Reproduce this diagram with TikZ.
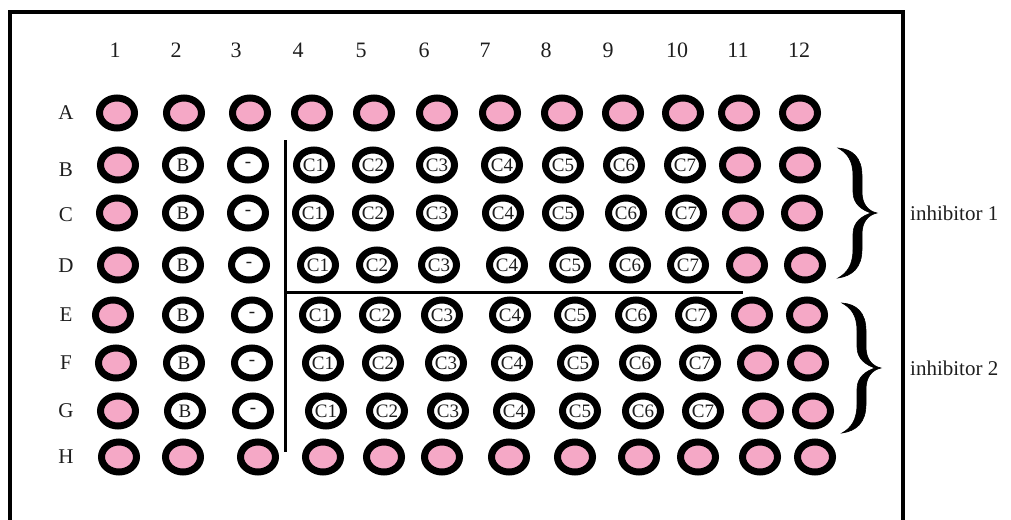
\documentclass[tikz,border=0pt]{standalone}
\usepackage{fontspec}
\setmainfont{Liberation Serif}
\usetikzlibrary{shapes.geometric}
\definecolor{wellpink}{RGB}{245,168,198}
\definecolor{inktext}{RGB}{30,30,30}
\begin{document}
\begin{tikzpicture}[x=1pt,y=-1pt,
  wellbase/.style={ellipse, draw=black, line width=7pt, minimum width=35pt, minimum height=30pt, inner sep=0pt, font=\fontsize{19}{19}\selectfont, text=inktext},
  pinkwell/.style={wellbase, fill=wellpink},
  labwell/.style={wellbase, fill=white},
  headlab/.style={font=\fontsize{22}{22}\selectfont, text=inktext, inner sep=0pt},
  rowlab/.style={font=\fontsize{21}{21}\selectfont, text=inktext, inner sep=0pt},
  sidelab/.style={font=\fontsize{21}{21}\selectfont, text=inktext, inner sep=0pt, anchor=west},
  bracefill/.style={fill=black, draw=black, line width=0.6pt},
  frameline/.style={line width=3.6pt, black},
  divider/.style={line width=3pt, black},
  curlybrace/.pic={
    \path[bracefill] (0,0) .. controls (14,1) and (24,9) .. (24,28) -- (24,44)
      .. controls (24,56) and (30,63) .. (39,65)
      .. controls (30,67) and (24,74) .. (24,86) -- (24,101)
      .. controls (24,120) and (14,128) .. (0,130)
      .. controls (9,125) and (15,117) .. (15,101) -- (15,86)
      .. controls (15,74) and (24,68) .. (33,65)
      .. controls (24,62) and (15,56) .. (15,44) -- (15,28)
      .. controls (15,12) and (9,5) .. (0,0) -- cycle;
  }]
\useasboundingbox (0,0) rectangle (1011,519);
% frame
\draw[frameline] (10,530) -- (10,12) -- (903,12) -- (903,530);
% column headers
\foreach \n/\x in {1/115,2/176,3/236,4/298,5/361,6/424,7/485,8/546,9/608,10/677,11/738,12/799}
  \node[headlab] (col\n) at (\x,50) {\n};
% row labels
\foreach \r/\y in {A/113,B/170,C/215,D/266,E/315,F/363,G/411,H/457}
  \node[rowlab] (row\r) at (66,\y) {\r};
% wells: row / index / y / x positions of columns 1..12
\foreach \r/\ri/\y/\xs in {
  A/1/113/{117,184,250,312,374,437,500,562,623,683,739,800},
  B/2/165/{118,183,248,314,373,437,502,563,624,685,740,800},
  C/3/213/{117,183,248,313,373,437,503,563,626,686,743,802},
  D/4/265/{118,183,249,318,377,439,507,570,630,688,747,805},
  E/5/315/{113,183,252,320,380,442,510,575,636,696,752,807},
  F/6/363/{116,184,252,323,383,446,512,578,640,700,758,808},
  G/7/411/{118,185,253,326,387,448,514,580,643,703,763,813},
  H/8/457/{119,183,258,323,384,442,509,575,639,698,760,815}}{
  \foreach \x [count=\c] in \xs {
    \pgfmathtruncatemacro{\inner}{(\c>1)&&(\c<11)&&(\ri>1)&&(\ri<8)}
    \ifnum\inner=1
      \ifnum\c=2
        \node[labwell] (w\r\c) at (\x,\y) {B};
      \else\ifnum\c=3
        \node[labwell] (w\r\c) at (\x,\y) {-};
      \else
        \pgfmathtruncatemacro{\cc}{\c-3}
        \node[labwell] (w\r\c) at (\x,\y) {C\cc};
      \fi\fi
    \else
      \node[pinkwell] (w\r\c) at (\x,\y) {};
    \fi
  }
}
% dividers
\coordinate (vtop) at (285,140);
\coordinate (vbot) at (285,452);
\coordinate (hl) at (285,292);
\coordinate (hr) at (743,292);
\draw[divider] (vtop) -- (vbot);
\draw[divider] (hl) -- (hr);
% braces
\pic (brace1) at (838,148) {curlybrace};
\pic (brace2) at (842,303) {curlybrace};
% side labels
\node[sidelab] (inh1) at (910,213) {inhibitor 1};
\node[sidelab] (inh2) at (910,368) {inhibitor 2};
\end{tikzpicture}
\end{document}
